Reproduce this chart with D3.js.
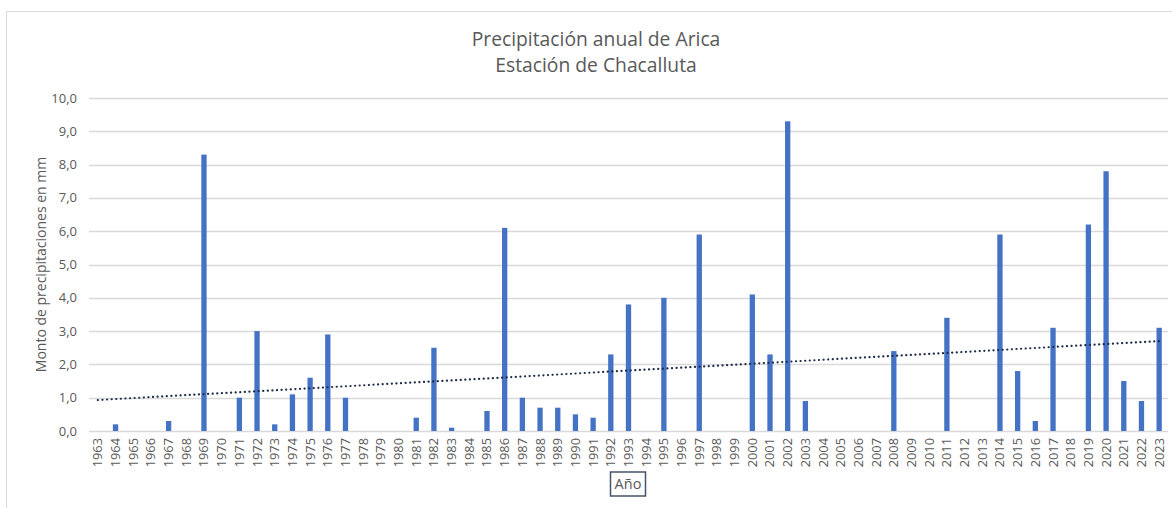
<!DOCTYPE html>
<html>
<head>
<meta charset="utf-8">
<script src="https://cdn.jsdelivr.net/npm/d3@7"></script>
<style>
  body { margin: 0; background: #fff; }
  text { font-family: "Open Sans", "Noto Sans", "Liberation Sans", sans-serif; fill: #595959; }
</style>
</head>
<body>
<div id="chart"></div>
<script>
const years = d3.range(1963, 2024).map(String);
const precip = [
  0, 0.2, 0, 0, 0.3, 0, 8.3, 0, 1.0, 3.0,
  0.2, 1.1, 1.6, 2.9, 1.0, 0, 0, 0, 0.4, 2.5,
  0.1, 0, 0.6, 6.1, 1.0, 0.7, 0.7, 0.5, 0.4, 2.3,
  3.8, 0, 4.0, 0, 5.9, 0, 0, 4.1, 2.3, 9.3,
  0.9, 0, 0, 0, 0, 2.4, 0, 0, 3.4, 0,
  0, 5.9, 1.8, 0.3, 3.1, 0, 6.2, 7.8, 1.5, 0.9,
  3.1
];
const yTicks = [0, 1, 2, 3, 4, 5, 6, 7, 8, 9, 10];
// trend line values at first and last year
const trendYears = ["1963", "2023"];
const trendValues = [0.93, 2.70];

const titleLines = ["Precipitación anual de Arica", "Estación de Chacalluta"];
const yTitle = "Monto de precipitaciones en mm";
const xTitle = "Año";

const W = 1172, H = 508;
const margin = { top: 98, right: 4, bottom: 77, left: 89 };

const svg = d3.select("#chart")
  .append("svg")
  .attr("width", W)
  .attr("height", H);

// chart frame
svg.append("rect")
  .attr("x", 6.5).attr("y", 11.5)
  .attr("width", 1200).attr("height", 600)
  .attr("fill", "none")
  .attr("stroke", "#d9d9d9");

const x = d3.scaleBand()
  .domain(years)
  .range([margin.left, W - margin.right])
  .paddingInner(0.7)
  .paddingOuter(0.35);

const y = d3.scaleLinear()
  .domain([0, 10])
  .range([H - margin.bottom, margin.top]);

// title
svg.append("g")
  .selectAll("text")
  .data(titleLines)
  .join("text")
  .attr("x", 596)
  .attr("y", (d, i) => 46 + i * 26)
  .attr("text-anchor", "middle")
  .style("font-size", "19.3px")
  .text(d => d);

// grid
svg.append("g")
  .selectAll("line")
  .data(yTicks)
  .join("line")
  .attr("x1", margin.left)
  .attr("x2", W - margin.right)
  .attr("y1", d => Math.round(y(d)) + 0.5)
  .attr("y2", d => Math.round(y(d)) + 0.5)
  .attr("stroke", "#d9d9d9")
  .attr("stroke-width", 1.5);

// y axis labels
svg.append("g")
  .selectAll("text")
  .data(yTicks)
  .join("text")
  .attr("x", 77)
  .attr("y", d => y(d))
  .attr("dy", "0.35em")
  .attr("text-anchor", "end")
  .style("font-size", "13px")
  .text(d => d3.format(".1f")(d).replace(".", ","));

// bars
svg.append("g")
  .selectAll("rect")
  .data(precip)
  .join("rect")
  .attr("x", (d, i) => x(years[i]))
  .attr("width", x.bandwidth())
  .attr("y", d => y(d))
  .attr("height", d => y(0) - y(d))
  .attr("fill", "#4472c4");

// x axis labels
svg.append("g")
  .selectAll("text")
  .data(years)
  .join("text")
  .attr("transform", d => `translate(${x(d) + x.bandwidth() / 2},${y(0) + 7}) rotate(-90)`)
  .attr("dy", "0.35em")
  .attr("text-anchor", "end")
  .style("font-size", "12.8px")
  .text(d => d);

// trend line
const line = d3.line()
  .x(d => x(d[0]) + x.bandwidth() / 2)
  .y(d => y(d[1]));
svg.append("path")
  .datum(trendYears.map((t, i) => [t, trendValues[i]]))
  .attr("d", line)
  .attr("fill", "none")
  .attr("stroke", "#1f2d4a")
  .attr("stroke-width", 2.2)
  .attr("stroke-linecap", "round")
  .attr("stroke-dasharray", "0.1,4.5");

// y title
svg.append("text")
  .attr("transform", `translate(41,${(y(0) + y(10)) / 2}) rotate(-90)`)
  .attr("text-anchor", "middle")
  .attr("dy", "0.35em")
  .style("font-size", "14px")
  .text(yTitle);

// x title with box
const xt = svg.append("g").attr("transform", "translate(628,484)");
xt.append("rect")
  .attr("x", -17.5).attr("y", -12)
  .attr("width", 35).attr("height", 24)
  .attr("fill", "#fff")
  .attr("stroke", "#44546a")
  .attr("stroke-width", 1.5);
xt.append("text")
  .attr("text-anchor", "middle")
  .attr("dy", "0.35em")
  .style("font-size", "14.5px")
  .text(xTitle);
</script>
</body>
</html>
